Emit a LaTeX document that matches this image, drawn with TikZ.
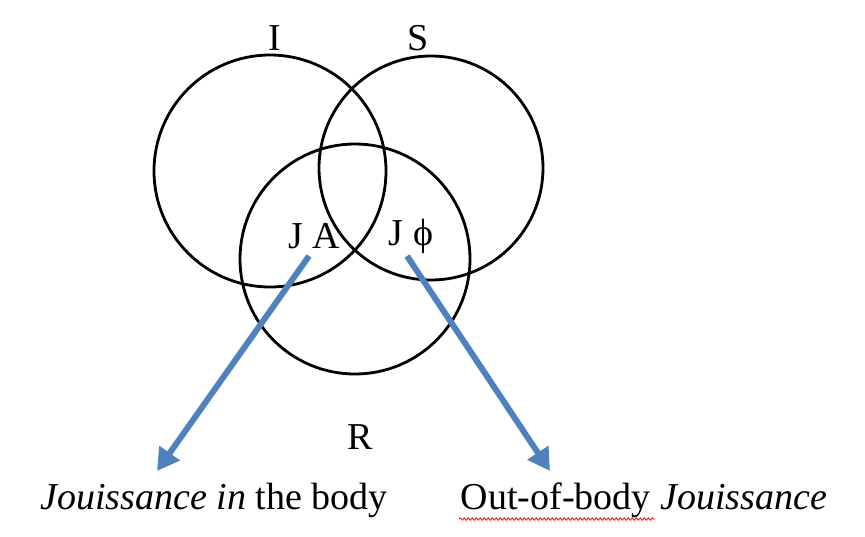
\documentclass[tikz,border=0pt]{standalone}
\usepackage{fontspec}
\setmainfont{Liberation Serif}
\usetikzlibrary{arrows.meta,positioning,decorations.pathmorphing}
\definecolor{officeblue}{RGB}{79,129,189}

\begin{document}
\begin{tikzpicture}[x=1pt, y=-1pt, font=\fontsize{38}{43}\selectfont,
  ring/.style={draw, circle, line width=2.8pt, inner sep=0pt},
  pointer/.style={draw=officeblue, line width=6pt, -{Triangle[length=22pt, width=24pt]}}]
\useasboundingbox (0,0) rectangle (865,536);
% the three rings
\node (imag)[ring, minimum size=232pt] at (270,171) {};
\node (symb)[ring, minimum size=224pt] at (431,168) {};
\node (real)[ring, minimum size=230pt] at (355,259) {};
% labels
\node (ilab) at (275,38) {I};
\node (slab) at (418,38) {S};
\node (rlab) at (360,437) {R};
\node (ja) at (314,236) {J A};
\node (jphi) at (411,236) {J ϕ};
\node (inbody) at (214,500) {\textit{Jouissance in} the body};
\node (outbody) at (644,500) {Out-of-body \textit{Jouissance}};
% arrows
\coordinate (ja-tail) at (309,256);
\coordinate (ja-tip) at (157,471);
\coordinate (jphi-tail) at (407,256);
\coordinate (jphi-tip) at (550,471);
\draw[pointer] (ja-tail) -- (ja-tip);
\draw[pointer] (jphi-tail) -- (jphi-tip);
% spell-check squiggle
\coordinate (sq-a) at (459,519);
\coordinate (sq-b) at (655,519);
\draw[red, line width=0.8pt, decorate, decoration={snake, amplitude=1.2pt, segment length=4pt}] (sq-a) -- (sq-b);
\end{tikzpicture}
\end{document}
